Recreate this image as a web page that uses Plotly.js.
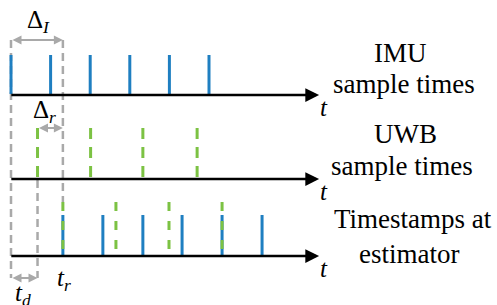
<!DOCTYPE html>
<html>
<head>
<meta charset="utf-8">
<script src="https://cdn.plot.ly/plotly-3.0.1.min.js"></script>
</head>
<body style="margin:0">
<div id="chart"></div>
<script>
// ---- data (time in units of the IMU period) ----
const imuTimes = [0, 1, 2, 3, 4, 5];
const uwbTimes = [0.67, 2.01, 3.33, 4.70];
const estImuTimes = [1.31, 2.32, 3.33, 4.32, 5.33, 6.34];
const estUwbTimes = [1.31, 2.65, 3.99, 5.33];
const rowLabels = [["IMU", "sample times"], ["UWB", "sample times"], ["Timestamps at", "estimator"]];
const tD = uwbTimes[0];      // delay t_d
const tR = estUwbTimes[0];   // t_r

// ---- layout constants (pixel rows on a reversed y axis) ----
const W = 497, H = 305;
const axisY = [95, 179, 256];
const axisStart = -0.03, axisEnd = 7.78;
const BLUE = '#1f7fc1', GREEN = '#7cc243', GREY = '#a9a9a9';

function ticks(times, y0, y1) {
  const xs = [], ys = [];
  times.forEach(t => { xs.push(t, t, null); ys.push(y0, y1, null); });
  return {xs, ys};
}

const traces = [];
traces.push({
  x: [0, 0, null, tR, tR, null, tD, tD],
  y: [40, 278, null, 40, 202, null, 180, 278],
  mode: 'lines', line: {color: GREY, width: 2.5, dash: '8px,5px'}, hoverinfo: 'skip'
});
let t1 = ticks(imuTimes, 55, 94);
traces.push({x: t1.xs, y: t1.ys, mode: 'lines', line: {color: BLUE, width: 3}, hoverinfo: 'skip'});
let t2 = ticks(uwbTimes, 128, 178);
traces.push({x: t2.xs, y: t2.ys, mode: 'lines', line: {color: GREEN, width: 3, dash: '11px,8px'}, hoverinfo: 'skip'});
let t3 = ticks(estImuTimes, 215, 255);
traces.push({x: t3.xs, y: t3.ys, mode: 'lines', line: {color: BLUE, width: 3}, hoverinfo: 'skip'});
let t4 = ticks(estUwbTimes, 202, 253);
traces.push({x: t4.xs, y: t4.ys, mode: 'lines', line: {color: GREEN, width: 3, dash: '9px,10px'}, hoverinfo: 'skip'});

const ann = [];
function txt(text, xpx, ypx, size) {
  ann.push({x: xpx / W, y: 1 - ypx / H, xref: 'paper', yref: 'paper', text: text, showarrow: false,
    xanchor: 'center', yanchor: 'middle', font: {family: 'Times New Roman', size: size}});
}
const labelPos = [[[400, 53], [404, 84]], [[405, 134], [402, 166]], [[413, 219], [409, 254]]];
rowLabels.forEach((lines, i) => {
  lines.forEach((s, j) => txt(s, labelPos[i][j][0], labelPos[i][j][1], 27));
});
axisY.forEach(y => txt('<i>t</i>', 324, y + 12, 25));
txt('Δ<sub><i>I</i></sub>', 38, 21, 25);
txt('Δ<sub><i>r</i></sub>', 44, 111, 25);
txt('<i>t</i><sub><i>r</i></sub>', 64, 279, 25);
txt('<i>t</i><sub><i>d</i></sub>', 23, 294, 25);

axisY.forEach(y => {
  ann.push({x: axisEnd, y: y, ax: axisStart, ay: y, xref: 'x', yref: 'y', axref: 'x', ayref: 'y',
    text: '', showarrow: true, arrowhead: 2, arrowsize: 1.1, arrowwidth: 2.5, arrowcolor: '#000', standoff: 0});
});
function bracket(xa, xb, y) {
  ann.push({x: xb, y: y, ax: xa, ay: y, xref: 'x', yref: 'y', axref: 'x', ayref: 'y',
    text: '', showarrow: true, arrowside: 'end+start', arrowhead: 2, arrowsize: 0.9, arrowwidth: 2,
    arrowcolor: GREY, standoff: 0, startstandoff: 0});
}
bracket(0, tR, 40);
bracket(tD, tR, 128);
bracket(0, tD, 278);

const layout = {
  width: W, height: H, margin: {l: 0, r: 0, t: 0, b: 0},
  showlegend: false,
  font: {family: 'Times New Roman', color: '#000'},
  xaxis: {range: [-11 / 39.6, (W - 11) / 39.6], visible: false},
  yaxis: {range: [H, 0], visible: false},
  annotations: ann
};
Plotly.newPlot('chart', traces, layout, {staticPlot: true});
</script>
</body>
</html>
